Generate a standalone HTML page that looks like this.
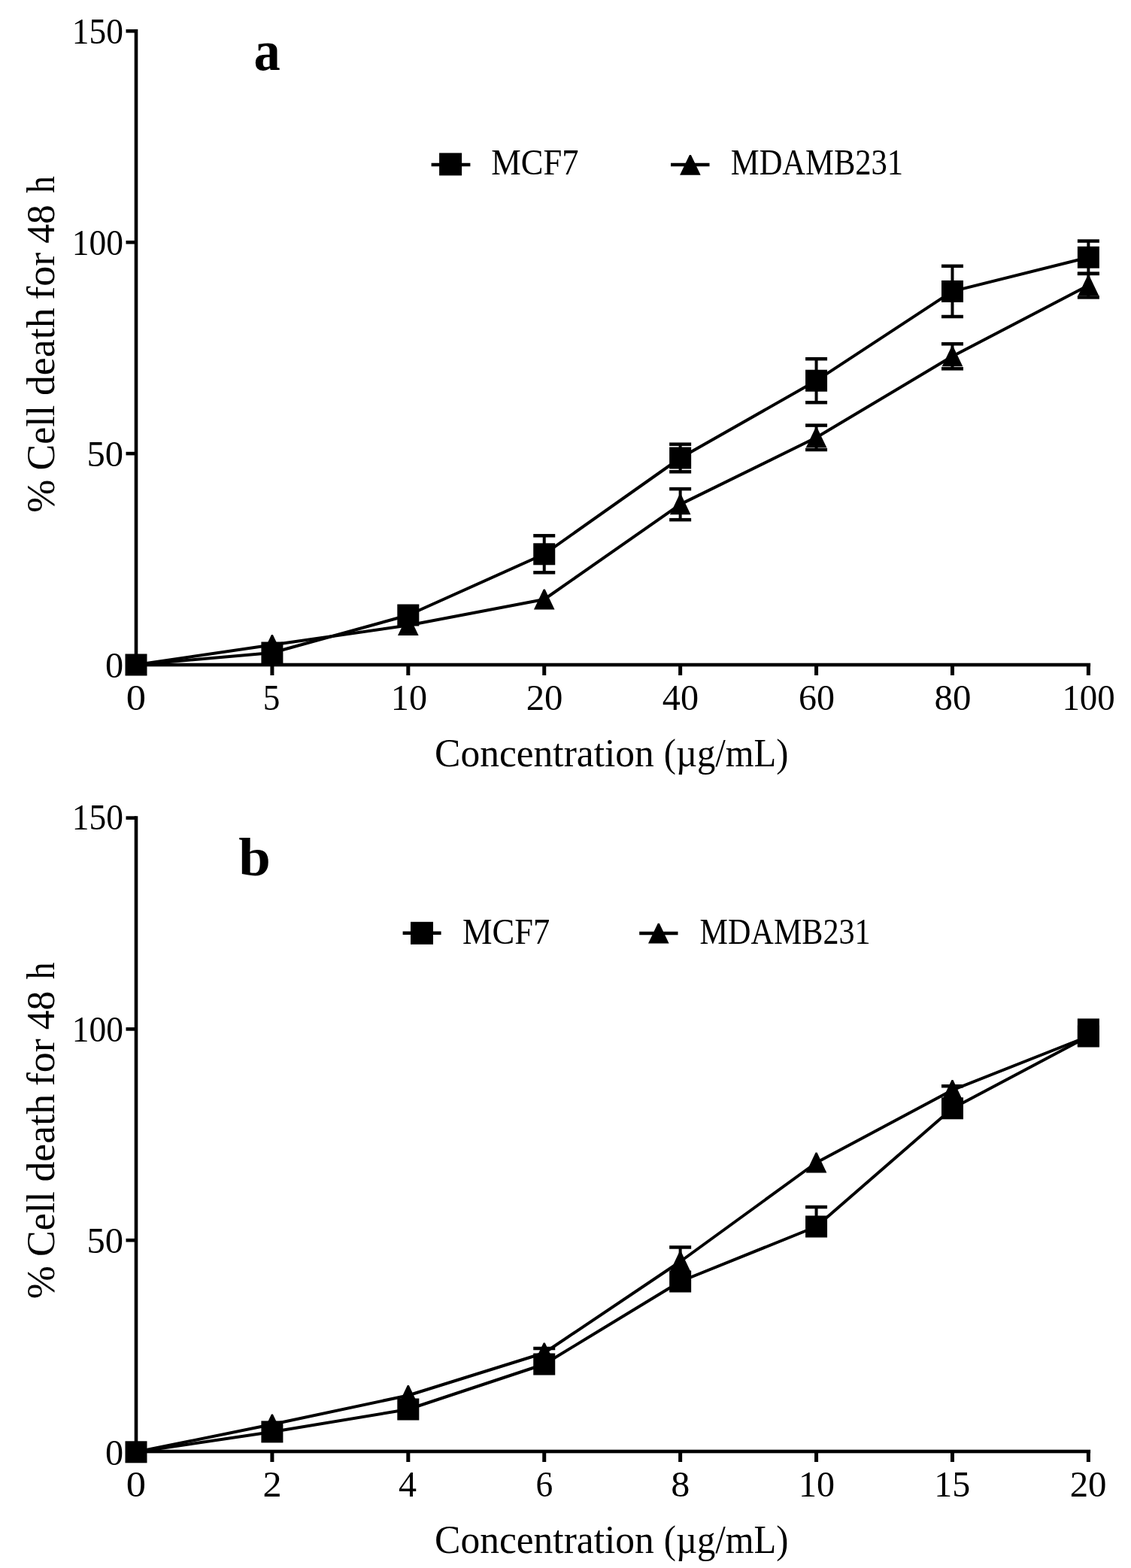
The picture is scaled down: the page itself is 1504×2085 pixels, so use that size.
<!DOCTYPE html>
<html><head><meta charset="utf-8"><title>Cell death chart</title>
<style>html,body{margin:0;padding:0;background:#fff;} svg{display:block;} text{font-family:"Liberation Serif", serif;fill:#000;}</style>
</head><body>
<svg width="1504" height="2085" viewBox="0 0 1504 2085">
<rect width="1504" height="2085" fill="#fff"/>
<g fill="#000">
<rect x="178.70" y="38.90" width="4.6" height="847.40"/>
<rect x="178.70" y="881.70" width="1271.40" height="4.6"/>
<rect x="167.5" y="881.70" width="13.50" height="4.6"/>
<rect x="167.5" y="600.80" width="13.50" height="4.6"/>
<rect x="167.5" y="319.90" width="13.50" height="4.6"/>
<rect x="167.5" y="39.00" width="13.50" height="4.6"/>
<rect x="178.50" y="884.00" width="5" height="14.00"/>
<rect x="359.41" y="884.00" width="5" height="14.00"/>
<rect x="540.32" y="884.00" width="5" height="14.00"/>
<rect x="721.23" y="884.00" width="5" height="14.00"/>
<rect x="902.14" y="884.00" width="5" height="14.00"/>
<rect x="1083.05" y="884.00" width="5" height="14.00"/>
<rect x="1263.96" y="884.00" width="5" height="14.00"/>
<rect x="1444.87" y="884.00" width="5" height="14.00"/>
<polyline points="181.00,884.00 361.91,868.00 542.82,818.00 723.73,736.80 904.64,609.00 1085.55,506.20 1266.46,387.40 1447.37,342.20" fill="none" stroke="#000" stroke-width="4" stroke-linejoin="round"/>
<polyline points="181.00,884.00 361.91,857.50 542.82,831.50 723.73,797.00 904.64,670.65 1085.55,581.80 1266.46,473.80 1447.37,379.60" fill="none" stroke="#000" stroke-width="4" stroke-linejoin="round"/>
<rect x="721.73" y="712.30" width="4" height="49.00"/>
<rect x="709.23" y="710.05" width="29" height="4.5"/>
<rect x="709.23" y="759.05" width="29" height="4.5"/>
<rect x="902.64" y="590.70" width="4" height="36.60"/>
<rect x="890.14" y="588.45" width="29" height="4.5"/>
<rect x="890.14" y="625.05" width="29" height="4.5"/>
<rect x="1083.55" y="477.20" width="4" height="58.00"/>
<rect x="1071.05" y="474.95" width="29" height="4.5"/>
<rect x="1071.05" y="532.95" width="29" height="4.5"/>
<rect x="1264.46" y="353.80" width="4" height="67.20"/>
<rect x="1251.96" y="351.55" width="29" height="4.5"/>
<rect x="1251.96" y="418.75" width="29" height="4.5"/>
<rect x="1445.37" y="320.50" width="4" height="43.40"/>
<rect x="1432.87" y="318.25" width="29" height="4.5"/>
<rect x="1432.87" y="361.65" width="29" height="4.5"/>
<rect x="902.64" y="650.15" width="4" height="41.00"/>
<rect x="890.14" y="647.90" width="29" height="4.5"/>
<rect x="890.14" y="688.90" width="29" height="4.5"/>
<rect x="1083.55" y="565.60" width="4" height="32.40"/>
<rect x="1071.05" y="563.35" width="29" height="4.5"/>
<rect x="1071.05" y="595.75" width="29" height="4.5"/>
<rect x="1264.46" y="457.30" width="4" height="33.00"/>
<rect x="1251.96" y="455.05" width="29" height="4.5"/>
<rect x="1251.96" y="488.05" width="29" height="4.5"/>
<rect x="1445.37" y="363.80" width="4" height="31.60"/>
<rect x="1432.87" y="361.55" width="29" height="4.5"/>
<rect x="1432.87" y="393.15" width="29" height="4.5"/>
<rect x="166.50" y="869.50" width="29" height="29"/>
<rect x="347.41" y="853.50" width="29" height="29"/>
<rect x="528.32" y="803.50" width="29" height="29"/>
<rect x="709.23" y="722.30" width="29" height="29"/>
<rect x="890.14" y="594.50" width="29" height="29"/>
<rect x="1071.05" y="491.70" width="29" height="29"/>
<rect x="1251.96" y="372.90" width="29" height="29"/>
<rect x="1432.87" y="327.70" width="29" height="29"/>
<polygon points="180.00,870.60 182.00,870.60 194.80,897.50 167.20,897.50"/>
<polygon points="360.91,844.10 362.91,844.10 375.71,871.00 348.11,871.00"/>
<polygon points="541.82,818.10 543.82,818.10 556.62,845.00 529.02,845.00"/>
<polygon points="722.73,783.60 724.73,783.60 737.53,810.50 709.93,810.50"/>
<polygon points="903.64,657.25 905.64,657.25 918.44,684.15 890.84,684.15"/>
<polygon points="1084.55,568.40 1086.55,568.40 1099.35,595.30 1071.75,595.30"/>
<polygon points="1265.46,460.40 1267.46,460.40 1280.26,487.30 1252.66,487.30"/>
<polygon points="1446.37,366.20 1448.37,366.20 1461.17,393.10 1433.57,393.10"/>

<rect x="178.70" y="1085.20" width="4.6" height="847.10"/>
<rect x="178.70" y="1927.70" width="1271.40" height="4.6"/>
<rect x="167.5" y="1927.70" width="13.50" height="4.6"/>
<rect x="167.5" y="1646.90" width="13.50" height="4.6"/>
<rect x="167.5" y="1366.10" width="13.50" height="4.6"/>
<rect x="167.5" y="1085.30" width="13.50" height="4.6"/>
<rect x="178.50" y="1930.00" width="5" height="14.00"/>
<rect x="359.41" y="1930.00" width="5" height="14.00"/>
<rect x="540.32" y="1930.00" width="5" height="14.00"/>
<rect x="721.23" y="1930.00" width="5" height="14.00"/>
<rect x="902.14" y="1930.00" width="5" height="14.00"/>
<rect x="1083.05" y="1930.00" width="5" height="14.00"/>
<rect x="1263.96" y="1930.00" width="5" height="14.00"/>
<rect x="1444.87" y="1930.00" width="5" height="14.00"/>
<polyline points="181.00,1930.80 361.91,1903.90 542.82,1874.00 723.73,1814.00 904.64,1704.00 1085.55,1631.00 1266.46,1473.80 1447.37,1378.00" fill="none" stroke="#000" stroke-width="4" stroke-linejoin="round"/>
<polyline points="181.00,1930.80 361.91,1894.00 542.82,1855.50 723.73,1799.00 904.64,1677.50 1085.55,1546.00 1266.46,1449.50 1447.37,1378.00" fill="none" stroke="#000" stroke-width="4" stroke-linejoin="round"/>
<rect x="1083.55" y="1605.00" width="4" height="26.00"/>
<rect x="1071.05" y="1602.75" width="29" height="4.5"/>
<rect x="721.73" y="1793.00" width="4" height="6.00"/>
<rect x="709.23" y="1790.75" width="29" height="4.5"/>
<rect x="902.64" y="1658.50" width="4" height="19.00"/>
<rect x="890.14" y="1656.25" width="29" height="4.5"/>
<rect x="1264.46" y="1444.20" width="4" height="5.30"/>
<rect x="1251.96" y="1441.95" width="29" height="4.5"/>
<rect x="166.50" y="1916.30" width="29" height="29"/>
<rect x="347.41" y="1889.40" width="29" height="29"/>
<rect x="528.32" y="1859.50" width="29" height="29"/>
<rect x="709.23" y="1799.50" width="29" height="29"/>
<rect x="890.14" y="1689.50" width="29" height="29"/>
<rect x="1071.05" y="1616.50" width="29" height="29"/>
<rect x="1251.96" y="1459.30" width="29" height="29"/>
<rect x="1432.87" y="1363.50" width="29" height="29"/>
<polygon points="180.00,1917.40 182.00,1917.40 194.80,1944.30 167.20,1944.30"/>
<polygon points="360.91,1880.60 362.91,1880.60 375.71,1907.50 348.11,1907.50"/>
<polygon points="541.82,1842.10 543.82,1842.10 556.62,1869.00 529.02,1869.00"/>
<polygon points="722.73,1785.60 724.73,1785.60 737.53,1812.50 709.93,1812.50"/>
<polygon points="903.64,1664.10 905.64,1664.10 918.44,1691.00 890.84,1691.00"/>
<polygon points="1084.55,1532.60 1086.55,1532.60 1099.35,1559.50 1071.75,1559.50"/>
<polygon points="1265.46,1436.10 1267.46,1436.10 1280.26,1463.00 1252.66,1463.00"/>
<polygon points="1446.37,1364.60 1448.37,1364.60 1461.17,1391.50 1433.57,1391.50"/>
<rect x="1432.87" y="1354.4" width="29" height="37.3"/>
<rect x="573.6" y="216.75" width="51.799999999999955" height="4.5"/>
<rect x="584.1" y="203.4" width="30" height="30"/>
<rect x="892" y="216.75" width="51.5" height="4.5"/>
<polygon points="916.90,205.90 918.90,205.90 931.70,232.80 904.10,232.80"/>
<rect x="535.6" y="1238.45" width="51.0" height="4.5"/>
<rect x="546.0" y="1225.8" width="30" height="30"/>
<rect x="850.2" y="1238.75" width="51.299999999999955" height="4.5"/>
<polygon points="874.80,1227.70 876.80,1227.70 889.60,1254.60 862.00,1254.60"/>
</g>
<g fill="#000">
<text transform="translate(95.71,57.90) scale(0.9470,1.0000)" font-size="48">150</text>
<text transform="translate(95.71,338.80) scale(0.9470,1.0000)" font-size="48">100</text>
<text transform="translate(115.47,619.80) scale(1.0116,1.0000)" font-size="48">50</text>
<text transform="translate(139.89,900.90) scale(1.0050,1.0000)" font-size="48">0</text>
<text transform="translate(95.71,1103.30) scale(0.9470,1.0000)" font-size="48">150</text>
<text transform="translate(95.71,1384.60) scale(0.9470,1.0000)" font-size="48">100</text>
<text transform="translate(115.47,1666.00) scale(1.0116,1.0000)" font-size="48">50</text>
<text transform="translate(139.89,1947.80) scale(1.0050,1.0000)" font-size="48">0</text>
<text transform="translate(167.81,944.30) scale(1.0950,1.0000)" font-size="48">0</text>
<text transform="translate(349.87,944.30) scale(0.9421,1.0000)" font-size="48">5</text>
<text transform="translate(519.78,944.30) scale(1.0048,1.0000)" font-size="48">10</text>
<text transform="translate(699.67,944.30) scale(1.0159,1.0000)" font-size="48">20</text>
<text transform="translate(880.80,944.30) scale(1.0044,1.0000)" font-size="48">40</text>
<text transform="translate(1062.00,944.30) scale(1.0000,1.0000)" font-size="48">60</text>
<text transform="translate(1242.56,944.30) scale(1.0182,1.0000)" font-size="48">80</text>
<text transform="translate(1412.39,944.30) scale(0.9773,1.0000)" font-size="48">100</text>
<text transform="translate(167.81,1989.60) scale(1.0950,1.0000)" font-size="48">0</text>
<text transform="translate(349.41,1989.60) scale(1.0474,1.0000)" font-size="48">2</text>
<text transform="translate(530.00,1989.60) scale(1.0000,1.0000)" font-size="48">4</text>
<text transform="translate(712.60,1989.60) scale(0.9476,1.0000)" font-size="48">6</text>
<text transform="translate(892.31,1989.60) scale(1.0450,1.0000)" font-size="48">8</text>
<text transform="translate(1062.00,1989.60) scale(1.0000,1.0000)" font-size="48">10</text>
<text transform="translate(1242.31,1989.60) scale(0.9976,1.0000)" font-size="48">15</text>
<text transform="translate(1422.66,1989.60) scale(1.0182,1.0000)" font-size="48">20</text>
<text transform="translate(578.02,1018.60) scale(0.9908,1.0000)" font-size="52">Concentration</text>
<text transform="translate(882.73,1018.60) scale(0.9347,1.0000)" font-size="52">(µg/mL)</text>
<text transform="translate(578.02,2065.20) scale(0.9908,1.0000)" font-size="52">Concentration</text>
<text transform="translate(882.73,2065.20) scale(0.9347,1.0000)" font-size="52">(µg/mL)</text>
<text transform="translate(653.17,232.40) scale(0.9276,1.0000)" font-size="48">MCF7</text>
<text transform="translate(971.81,232.30) scale(0.8863,1.0000)" font-size="48">MDAMB231</text>
<text transform="translate(615.07,1255.20) scale(0.9268,1.0000)" font-size="48">MCF7</text>
<text transform="translate(930.62,1255.40) scale(0.8776,1.0000)" font-size="48">MDAMB231</text>
<text transform="translate(337.54,93.40) scale(0.9286,1.0000)" font-size="76" font-weight="bold">a</text>
<text transform="translate(317.29,1164.24) scale(1.0079,0.9556)" font-size="76" font-weight="bold">b</text>
<text transform="translate(72.40,681.84) rotate(-90) scale(1.0200,1)" font-size="52">%</text>
<text transform="translate(72.40,625.50) rotate(-90) scale(1.0000,1)" font-size="52">Cell</text>
<text transform="translate(72.40,526.07) rotate(-90) scale(1.0364,1)" font-size="52">death</text>
<text transform="translate(72.40,398.78) rotate(-90) scale(1.0379,1)" font-size="52">for</text>
<text transform="translate(72.40,323.69) rotate(-90) scale(0.9898,1)" font-size="52">48</text>
<text transform="translate(72.40,256.77) rotate(-90) scale(0.8708,1)" font-size="52">h</text>
<text transform="translate(72.40,1727.34) rotate(-90) scale(1.0200,1)" font-size="52">%</text>
<text transform="translate(72.40,1671.00) rotate(-90) scale(1.0000,1)" font-size="52">Cell</text>
<text transform="translate(72.40,1571.57) rotate(-90) scale(1.0364,1)" font-size="52">death</text>
<text transform="translate(72.40,1444.28) rotate(-90) scale(1.0379,1)" font-size="52">for</text>
<text transform="translate(72.40,1369.19) rotate(-90) scale(0.9898,1)" font-size="52">48</text>
<text transform="translate(72.40,1302.27) rotate(-90) scale(0.8708,1)" font-size="52">h</text>
</g>
</svg>
</body></html>
